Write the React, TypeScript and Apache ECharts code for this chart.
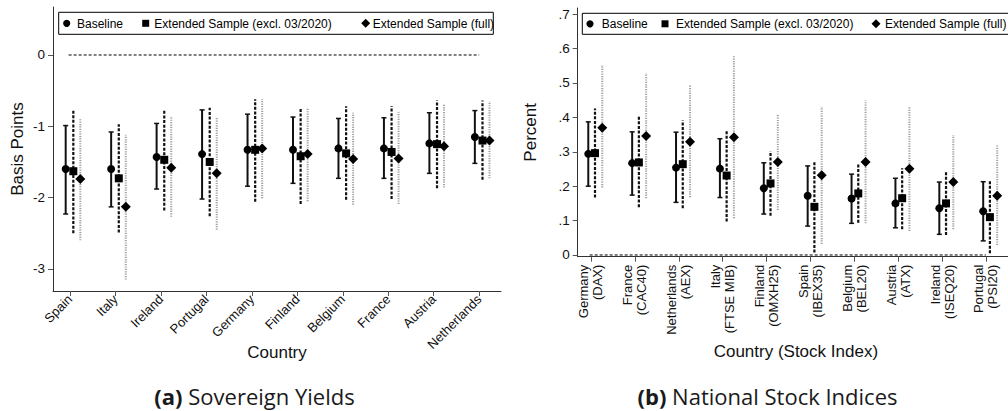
import React, { useEffect, useRef } from "react";
import * as echarts from "echarts";

const sovCountries = ["Spain", "Italy", "Ireland", "Portugal", "Germany", "Finland", "Belgium", "France", "Austria", "Netherlands"];
const sovBase = [-1.6, -1.6, -1.43, -1.39, -1.33, -1.33, -1.31, -1.31, -1.24, -1.15];
const sovBaseLo = [-2.23, -2.13, -1.88, -2.02, -1.84, -1.8, -1.73, -1.73, -1.66, -1.52];
const sovBaseHi = [-0.99, -1.08, -0.96, -0.77, -0.83, -0.87, -0.89, -0.88, -0.81, -0.78];
const sovExcl = [-1.63, -1.73, -1.47, -1.5, -1.33, -1.42, -1.38, -1.36, -1.25, -1.2];
const sovExclLo = [-2.5, -2.49, -2.18, -2.26, -2.06, -2.09, -2.03, -2.02, -1.87, -1.75];
const sovExclHi = [-0.77, -0.97, -0.76, -0.74, -0.62, -0.75, -0.72, -0.72, -0.64, -0.64];
const sovFull = [-1.74, -2.13, -1.58, -1.66, -1.31, -1.39, -1.46, -1.45, -1.28, -1.2];
const sovFullLo = [-2.6, -3.15, -2.27, -2.45, -2.01, -2.05, -2.1, -2.09, -1.86, -1.73];
const sovFullHi = [-0.9, -1.12, -0.87, -0.87, -0.62, -0.74, -0.81, -0.8, -0.68, -0.65];
const sovTicks = [-3, -2, -1, 0];

const stkCountries = ["Germany", "France", "Netherlands", "Italy", "Finland", "Spain", "Belgium", "Austria", "Ireland", "Portugal"];
const stkIndices = ["(DAX)", "(CAC40)", "(AEX)", "(FTSE MIB)", "(OMXH25)", "(IBEX35)", "(BEL20)", "(ATX)", "(ISEQ20)", "(PSI20)"];
const stkBase = [0.294, 0.267, 0.254, 0.251, 0.194, 0.172, 0.164, 0.15, 0.136, 0.127];
const stkBaseLo = [0.2, 0.174, 0.153, 0.167, 0.119, 0.084, 0.092, 0.079, 0.06, 0.041];
const stkBaseHi = [0.387, 0.358, 0.357, 0.338, 0.268, 0.259, 0.235, 0.223, 0.212, 0.213];
const stkExcl = [0.296, 0.269, 0.264, 0.231, 0.208, 0.14, 0.179, 0.165, 0.15, 0.11];
const stkExclLo = [0.167, 0.139, 0.136, 0.097, 0.114, 0.007, 0.094, 0.075, 0.058, 0.005];
const stkExclHi = [0.426, 0.402, 0.392, 0.365, 0.302, 0.273, 0.267, 0.252, 0.242, 0.216];
const stkFull = [0.37, 0.346, 0.329, 0.342, 0.27, 0.232, 0.27, 0.251, 0.212, 0.172];
const stkFullLo = [0.196, 0.165, 0.168, 0.107, 0.131, 0.032, 0.092, 0.07, 0.075, 0.029];
const stkFullHi = [0.552, 0.528, 0.494, 0.581, 0.41, 0.431, 0.449, 0.433, 0.349, 0.319];
const stkTicks = [0, 0.1, 0.2, 0.3, 0.4, 0.5, 0.6, 0.7];

const seriesNames = ["Baseline", "Extended Sample (excl. 03/2020)", "Extended Sample (full)"];

const FONT = "Liberation Sans";
const CAPFONT = "Open Sans";

const styles = [
  { stroke: "#111", lineWidth: 2 },
  { stroke: "#111", lineWidth: 2.2, lineDash: [3, 1.6] },
  { stroke: "#a0a0a0", lineWidth: 2, lineDash: [1.2, 1.2] },
];

function errRender(style: any, cap: boolean) {
  return (params: any, api: any) => {
    const x = api.value(0);
    const lo = api.value(1);
    const hi = api.value(2);
    const p1 = api.coord([x, lo]);
    const p2 = api.coord([x, hi]);
    const children: any[] = [
      { type: "line", shape: { x1: p1[0], y1: p1[1], x2: p2[0], y2: p2[1] }, style: { ...style, fill: null } },
    ];
    if (cap) {
      children.push({ type: "line", shape: { x1: p1[0] - 2.5, y1: p1[1], x2: p1[0] + 2.5, y2: p1[1] }, style: { stroke: style.stroke, lineWidth: 1.5 } });
      children.push({ type: "line", shape: { x1: p2[0] - 2.5, y1: p2[1], x2: p2[0] + 2.5, y2: p2[1] }, style: { stroke: style.stroke, lineWidth: 1.5 } });
    }
    return { type: "group", children };
  };
}

function legendGraphics(x0: number, y0: number, w: number, h: number, cx: number[], tx: number[]) {
  const cy = y0 + h / 2;
  const els: any[] = [
    { type: "rect", z: 100, shape: { x: x0, y: y0, width: w, height: h }, style: { fill: "#fff", stroke: "#000", lineWidth: 1 } },
    { type: "circle", z: 101, shape: { cx: cx[0], cy, r: 3.6 }, style: { fill: "#000" } },
    { type: "rect", z: 101, shape: { x: cx[1] - 3.5, y: cy - 3.5, width: 7, height: 7 }, style: { fill: "#000" } },
    { type: "polygon", z: 101, shape: { points: [[cx[2], cy - 4.5], [cx[2] + 4.5, cy], [cx[2], cy + 4.5], [cx[2] - 4.5, cy]] }, style: { fill: "#000" } },
  ];
  seriesNames.forEach((n, i) => {
    els.push({
      type: "text", z: 101, x: tx[i], y: cy + 0.5,
      style: { text: n, fontSize: 12, fontFamily: FONT, fill: "#000", align: "left", verticalAlign: "middle" },
    });
  });
  return els;
}

export default function App() {
  const ref = useRef<HTMLDivElement>(null);
  useEffect(() => {
    document.body.style.margin = "0";
    const chart = echarts.init(ref.current!, null, { renderer: "svg" });
    const sovOff = [-0.095, 0.073, 0.227];
    const stkOff = [-0.062, 0.091, 0.257];
    const sovSets = [[sovBase, sovBaseLo, sovBaseHi], [sovExcl, sovExclLo, sovExclHi], [sovFull, sovFullLo, sovFullHi]];
    const stkSets = [[stkBase, stkBaseLo, stkBaseHi], [stkExcl, stkExclLo, stkExclHi], [stkFull, stkFullLo, stkFullHi]];
    const symbols = ["circle", "rect", "diamond"];
    const symSizes = [8, 8, 10];
    const series: any[] = [];
    [0, 1].forEach((g) => {
      const sets = g === 0 ? sovSets : stkSets;
      const off = g === 0 ? sovOff : stkOff;
      series.push({
        type: "line", xAxisIndex: g, yAxisIndex: g, symbol: "none", silent: true, z: 1,
        data: [[0.97, 0], [10.0, 0]],
        lineStyle: { color: "#000", width: 1, type: [3, 2] },
      });
      sets.forEach((s, k) => {
        series.push({
          type: "custom", name: seriesNames[k], xAxisIndex: g, yAxisIndex: g, z: 2,
          renderItem: errRender(styles[k], k === 0),
          encode: { x: 0, y: [1, 2] },
          data: s[0].map((_, i) => [i + 1 + off[k], s[1][i], s[2][i]]),
        });
      });
      sets.forEach((s, k) => {
        series.push({
          type: "scatter", name: seriesNames[k], xAxisIndex: g, yAxisIndex: g, z: 3,
          symbol: symbols[k], symbolSize: symSizes[k],
          itemStyle: { color: "#000", opacity: 1 },
          data: s[0].map((v, i) => [i + 1 + off[k], v]),
        });
      });
    });

    const axisLine = { show: true, onZero: false, lineStyle: { color: "#333", width: 1 } };
    const axisTick = { show: true, length: 5, lineStyle: { color: "#555", width: 1 } };
    const catVals = [1, 2, 3, 4, 5, 6, 7, 8, 9, 10];

    chart.setOption({
      animation: false,
      grid: [
        { left: 53, top: 7, right: 1008 - 501, bottom: 411 - 291, outerBoundsMode: "none", containLabel: false },
        { left: 577.7, top: 8, right: -6, bottom: 411 - 256.7, outerBoundsMode: "none", containLabel: false },
      ],
      xAxis: [
        {
          type: "value", gridIndex: 0, min: 0.626, max: 10.48,
          axisLine, splitLine: { show: false },
          axisTick: { ...axisTick, customValues: catVals },
          axisLabel: {
            customValues: catVals, rotate: 45, margin: 6, fontSize: 13, fontFamily: FONT, color: "#111",
            formatter: (v: number) => sovCountries[Math.round(v) - 1] || "",
          },
          name: "Country", nameLocation: "middle", nameGap: 53, nameMoveOverlap: false,
          nameTextStyle: { fontSize: 17, fontFamily: FONT, color: "#111" },
        },
        {
          type: "value", gridIndex: 1, min: 0.697, max: 10.64,
          axisLine, splitLine: { show: false },
          axisTick: { ...axisTick, customValues: catVals },
          axisLabel: {
            customValues: catVals, rotate: 90, margin: 8, fontSize: 13, lineHeight: 14, fontFamily: FONT, color: "#111",
            formatter: (v: number) => {
              const i = Math.round(v) - 1;
              return stkCountries[i] ? stkCountries[i] + "\n" + stkIndices[i] : "";
            },
          },
          name: "Country (Stock Index)", nameLocation: "middle", nameGap: 86, nameMoveOverlap: false,
          nameTextStyle: { fontSize: 17, fontFamily: FONT, color: "#111" },
        },
      ],
      yAxis: [
        {
          type: "value", gridIndex: 0, min: -3.31, max: 0.673,
          axisLine, splitLine: { show: false },
          axisTick: { ...axisTick, customValues: sovTicks },
          axisLabel: { customValues: sovTicks, margin: 8, fontSize: 13.5, fontFamily: FONT, color: "#111" },
          name: "Basis Points", nameLocation: "middle", nameGap: 27, nameRotate: 90, nameMoveOverlap: false,
          nameTextStyle: { fontSize: 17, fontFamily: FONT, color: "#111" },
        },
        {
          type: "value", gridIndex: 1, min: -0.005, max: 0.718,
          axisLine, splitLine: { show: false },
          axisTick: { ...axisTick, customValues: stkTicks },
          axisLabel: {
            customValues: stkTicks, margin: 8, fontSize: 13.5, fontFamily: FONT, color: "#111",
            formatter: (v: number) => (Math.abs(v) < 1e-9 ? "0" : "." + Math.round(v * 10)),
          },
          name: "Percent", nameLocation: "middle", nameGap: 39, nameRotate: 90, nameMoveOverlap: false,
          nameTextStyle: { fontSize: 17, fontFamily: FONT, color: "#111" },
        },
      ],
      graphic: [
        ...legendGraphics(58.7, 12.3, 434.6, 22, [66.7, 145.7, 365.7], [77, 154.3, 372.7]),
        ...legendGraphics(582.3, 13.3, 440, 21, [590, 665, 876], [601.7, 676, 885]),
        {
          type: "text", x: 254.5, y: 396,
          style: {
            text: "{b|(a)} Sovereign Yields", fontSize: 22, fontFamily: CAPFONT, fill: "#1a1a1a",
            align: "center", verticalAlign: "middle",
            rich: { b: { fontSize: 22, fontFamily: CAPFONT, fontWeight: "bold", fill: "#1a1a1a" } },
          },
        },
        {
          type: "text", x: 767.5, y: 396,
          style: {
            text: "{b|(b)} National Stock Indices", fontSize: 22, fontFamily: CAPFONT, fill: "#1a1a1a",
            align: "center", verticalAlign: "middle",
            rich: { b: { fontSize: 22, fontFamily: CAPFONT, fontWeight: "bold", fill: "#1a1a1a" } },
          },
        },
      ],
      series,
    });
    return () => chart.dispose();
  }, []);
  return <div ref={ref} style={{ width: 1008, height: 411 }} />;
}
